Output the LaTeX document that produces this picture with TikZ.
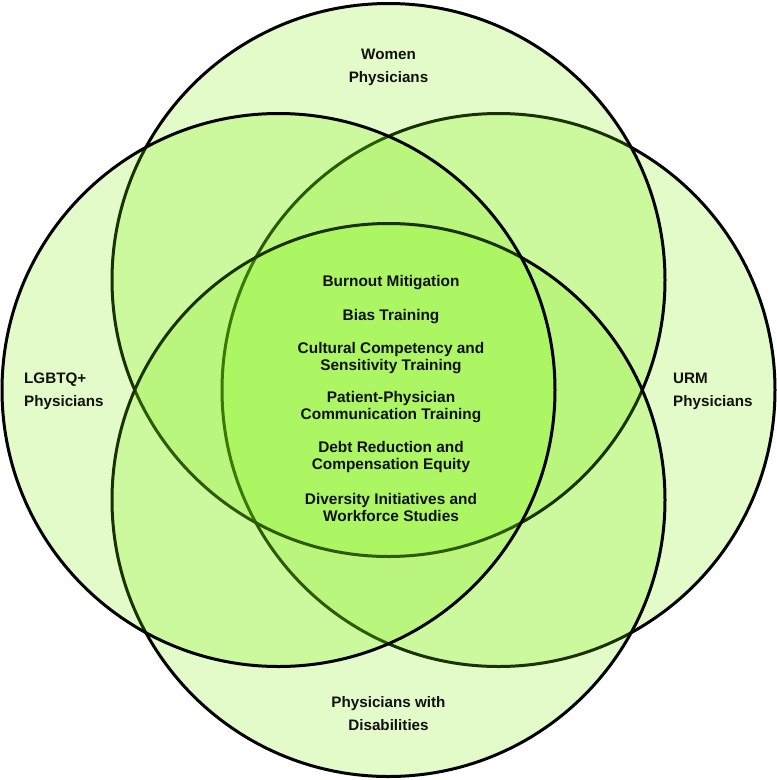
\documentclass[tikz,border=0pt]{standalone}
\usepackage{fontspec}
\setmainfont{Liberation Sans}
\definecolor{venngreen}{RGB}{120,238,0}
\definecolor{txt}{RGB}{17,17,17}
\begin{document}
\begin{tikzpicture}[x=1pt,y=-1pt,
  venn/.style={fill=venngreen,fill opacity=0.21,draw=black,line width=3pt},
  inner/.style={font=\fontsize{15.4}{17}\selectfont\bfseries,text=txt,align=center,inner sep=0pt},
  outer/.style={font=\fontsize{15.2}{23}\selectfont\bfseries,text=txt,inner sep=0pt}]
\useasboundingbox (0,0) rectangle (777,780);
\coordinate (cR) at (498.5,390);
\coordinate (cT) at (388.5,280);
\coordinate (cB) at (388.5,500);
\coordinate (cL) at (278.5,390);
\filldraw[venn] (cR) circle[radius=276.5pt];
\filldraw[venn] (cT) circle[radius=276.5pt];
\filldraw[venn] (cB) circle[radius=276.5pt];
\filldraw[venn] (cL) circle[radius=276.5pt];
% outer labels
\node[outer,align=center] (women) at (388.5,67) {Women\\Physicians};
\node[outer,align=center] (disab) at (388.5,714) {Physicians with\\Disabilities};
\node[outer,align=left,anchor=west] (lgbtq) at (24,391) {LGBTQ+\\Physicians};
\node[outer,align=left,anchor=west] (urm) at (673,391) {URM\\Physicians};
% centre items
\node[inner] (i1) at (391,283) {Burnout Mitigation};
\node[inner] (i2) at (391,317) {Bias Training};
\node[inner] (i3) at (391,358) {Cultural Competency and\\Sensitivity Training};
\node[inner] (i4) at (391,407.5) {Patient-Physician\\Communication Training};
\node[inner] (i5) at (391,457.5) {Debt Reduction and\\Compensation Equity};
\node[inner] (i6) at (391,507.5) {Diversity Initiatives and\\Workforce Studies};
\end{tikzpicture}
\end{document}
